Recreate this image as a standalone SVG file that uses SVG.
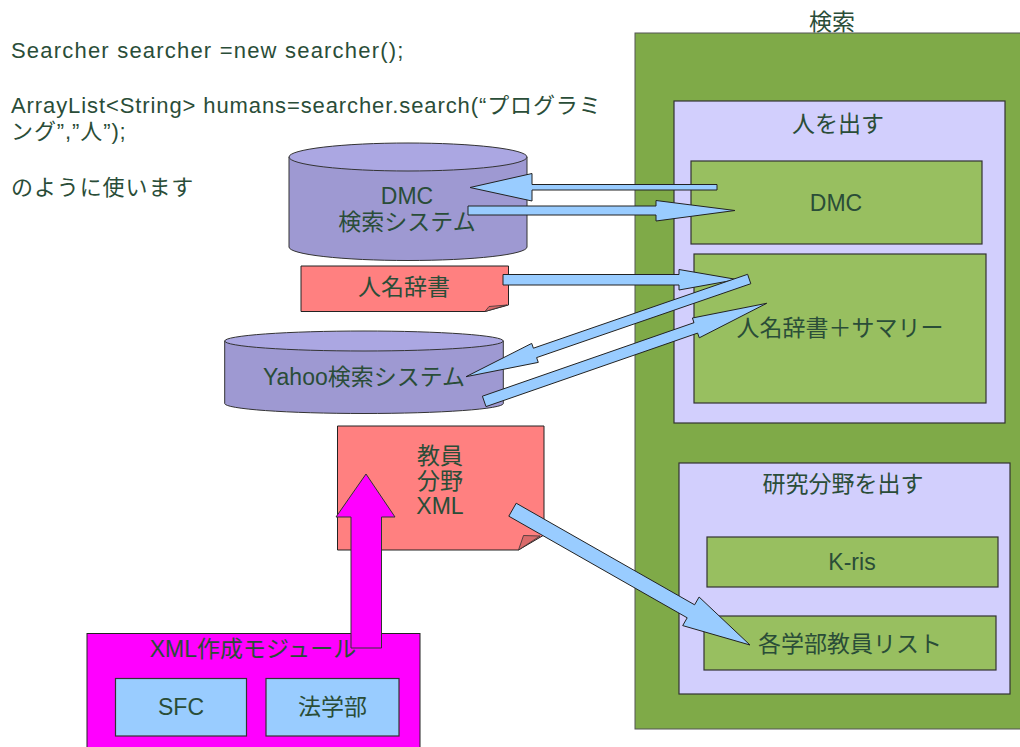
<svg xmlns="http://www.w3.org/2000/svg" width="1020" height="747" viewBox="0 0 1020 747">
  <defs>
    <style>
      text { font-family: "Liberation Sans", "Noto Sans CJK JP", sans-serif; fill: #2a4d38; }
      .code { font-size: 22px; letter-spacing: 0.9px; }
      .code-wide { letter-spacing: 1.2px; }
      .lbl { font-size: 23px; text-anchor: middle; }
      .outer { fill: #7faa48; stroke: #555; stroke-width: 1; }
      .panel { fill: #d2cffd; stroke: #333; stroke-width: 1.2; }
      .leaf { fill: #98bf60; stroke: #333; stroke-width: 1.2; }
      .db-side { fill: #9e99d2; stroke: #333; stroke-width: 1; }
      .db-top { fill: #aba7e2; stroke: #333; stroke-width: 1; }
      .doc { fill: #ff8080; stroke: #222; stroke-width: 1; }
      .fold { fill: #d96a6a; stroke: #333; stroke-width: 0.8; }
      .module { fill: #ff00ff; stroke: #222; stroke-width: 1; }
      .src { fill: #99ccff; stroke: #333; stroke-width: 1.2; }
      .arrow { fill: #99ccff; stroke: #222; stroke-width: 1; stroke-linejoin: miter; }
      .arrow-m { fill: #ff00ff; stroke: #333; stroke-width: 1; }
    </style>
  </defs>

  <!-- usage notes -->
  <g id="usage">
    <text class="code code-wide" x="11" y="58">Searcher searcher =new searcher();</text>
    <text class="code" x="11" y="113">ArrayList&lt;String&gt; humans=searcher.search(“プログラミ</text>
    <text class="code" x="11" y="139">ング”,”人”);</text>
    <text class="code" x="11" y="195">のように使います</text>
  </g>

  <!-- search block -->
  <g id="search">
    <rect class="outer" x="635" y="33" width="400" height="696"/>
    <text class="lbl" x="832" y="30">検索</text>
  </g>
  <g id="find-people">
    <rect class="panel" x="674" y="101" width="331" height="322"/>
    <text class="lbl" x="838" y="132">人を出す</text>
  </g>
  <g id="dmc">
    <rect class="leaf" x="691" y="161" width="291" height="83"/>
    <text class="lbl" x="836" y="211">DMC</text>
  </g>
  <g id="name-summary">
    <rect class="leaf" x="694" y="254" width="292" height="149"/>
    <text class="lbl" x="840" y="336">人名辞書＋サマリー</text>
  </g>
  <g id="find-fields">
    <rect class="panel" x="679" y="463" width="331" height="231"/>
    <text class="lbl" x="843" y="492">研究分野を出す</text>
  </g>
  <g id="kris">
    <rect class="leaf" x="707" y="537" width="291" height="50"/>
    <text class="lbl" x="852" y="570">K-ris</text>
  </g>
  <g id="faculty-list">
    <rect class="leaf" x="704" y="616" width="292" height="54"/>
    <text class="lbl" x="850" y="652">各学部教員リスト</text>
  </g>

  <!-- data sources -->
  <g id="dmc-system">
    <path class="db-side" d="M289,157 L289,247 A119,13.5 0 0 0 527,247 L527,157 Z"/>
    <ellipse class="db-top" cx="408" cy="157" rx="119" ry="14"/>
    <text class="lbl" x="407" y="204">DMC</text>
    <text class="lbl" x="407" y="230">検索システム</text>
  </g>
  <g id="name-dictionary">
    <path class="doc" d="M301,266 L508.5,266 L508.5,305 L485,311.5 L301,311.5 Z"/>
    <path class="fold" d="M485,311.5 L489,306.5 L507,305 Z"/>
    <text class="lbl" x="404" y="295">人名辞書</text>
  </g>
  <g id="yahoo-system">
    <path class="db-side" d="M224.7,341 L224.7,403.5 A139.3,10 0 0 0 503.3,403.5 L503.3,341 Z"/>
    <ellipse class="db-top" cx="364" cy="341" rx="139.3" ry="10"/>
    <text class="lbl" x="364" y="385">Yahoo検索システム</text>
  </g>
  <g id="faculty-xml">
    <path class="doc" d="M337.5,426 L544,426 L544,535 L518.5,550 L337.5,550 Z"/>
    <path class="fold" d="M518.5,550 L523.5,535.5 L540,536 Z"/>
    <text class="lbl" x="440" y="464">教員</text>
    <text class="lbl" x="440" y="489">分野</text>
    <text class="lbl" x="440" y="514">XML</text>
  </g>
  <g id="xml-builder">
    <rect class="module" x="87" y="633.5" width="333" height="130"/>
  </g>
  <g id="sfc">
    <rect class="src" x="115.5" y="678.5" width="131" height="57.5"/>
    <text class="lbl" x="181" y="715">SFC</text>
  </g>
  <g id="law">
    <rect class="src" x="266" y="678.5" width="133" height="57.5"/>
    <text class="lbl" x="332.5" y="715">法学部</text>
  </g>

  <!-- connectors -->
  <g id="connectors">
    <polygon class="arrow" points="717,184.5 532,184.5 532,173.5 470,187.5 532,201 532,190 717,190"/>
    <polygon class="arrow" points="468,206 656,206 656,200.5 735,210.5 656,221 656,215 468,215"/>
    <polygon class="arrow" points="503,274.5 679,274.5 679,269.5 737,279.5 679,290 679,285 503,285"/>
    <polygon class="arrow" points="747.6,274.3 533.4,348.2 531.7,343.4 466,376.7 538.3,362.4 536.6,357.6 750.8,283.7"/>
    <polygon class="arrow" points="486,406.6 697.6,333.1 699.3,337.8 766.7,303.3 692.4,318 694,322.7 482.4,396.2"/>
    <polygon class="arrow" points="508.8,516.2 687.2,617.8 682.7,625.6 750,645 699.1,597 694.6,604.8 516.2,503.2"/>
    <polygon class="arrow-m" points="351,648 351,517 336,517 366,474 395,517 381.5,517 381.5,648"/>
  </g>

  <g id="xml-builder-label">
    <text class="lbl" x="253" y="657">XML作成モジュール</text>
  </g>
</svg>
